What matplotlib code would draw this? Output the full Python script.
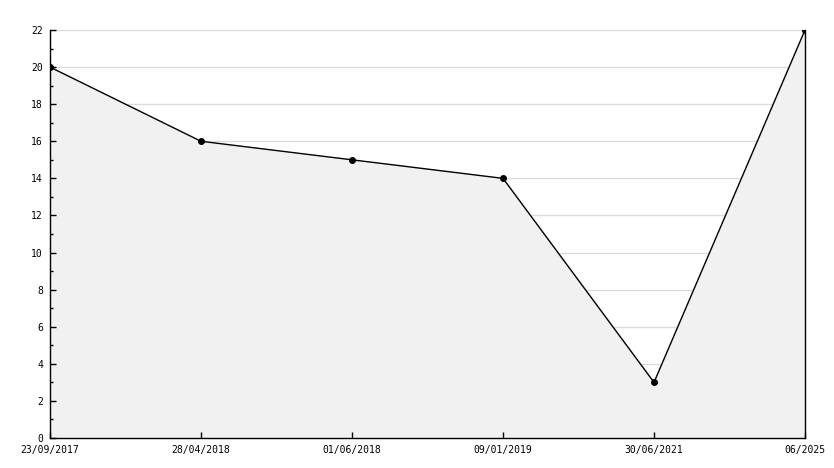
import matplotlib.pyplot as plt
from matplotlib.ticker import MultipleLocator

dates = ['23/09/2017', '28/04/2018', '01/06/2018', '09/01/2019', '30/06/2021', '06/2025']
values = [20, 16, 15, 14, 3, 22]

x = list(range(len(dates)))

fig = plt.figure(figsize=(8.34, 4.68), dpi=100)
ax = fig.add_axes([50/834, 30/468, 755/834, 408/468])
ax.set_axisbelow(False)

# grid under the filled area, ticks above it
for yv in range(2, 23, 2):
    ax.axhline(yv, color='#dcdcdc', lw=1, zorder=0.5)

ax.fill_between(x, values, 0, color='#f1f1f1', zorder=1)
ax.plot(x, values, color='black', lw=1, marker='o', ms=4, zorder=3)

ax.set_xlim(0, len(dates) - 1)
ax.set_ylim(0, 22)
ax.yaxis.set_major_locator(MultipleLocator(2))
ax.yaxis.set_minor_locator(MultipleLocator(1))
ax.set_xticks(x)
ax.set_xticklabels(dates)

for lab in ax.get_xticklabels() + ax.get_yticklabels():
    lab.set_family('DejaVu Sans Mono')
    lab.set_fontsize(7)

ax.tick_params(axis='y', which='major', direction='in', length=4, width=1, pad=5, colors='black')
ax.tick_params(axis='y', which='minor', direction='in', length=2.5, width=1)
ax.tick_params(axis='x', direction='in', length=4, width=1, pad=5)

ax.spines['top'].set_visible(False)
for s in ['left', 'bottom', 'right']:
    ax.spines[s].set_linewidth(1)
    ax.spines[s].set_color('black')

fig.savefig('out.png', dpi=100)
